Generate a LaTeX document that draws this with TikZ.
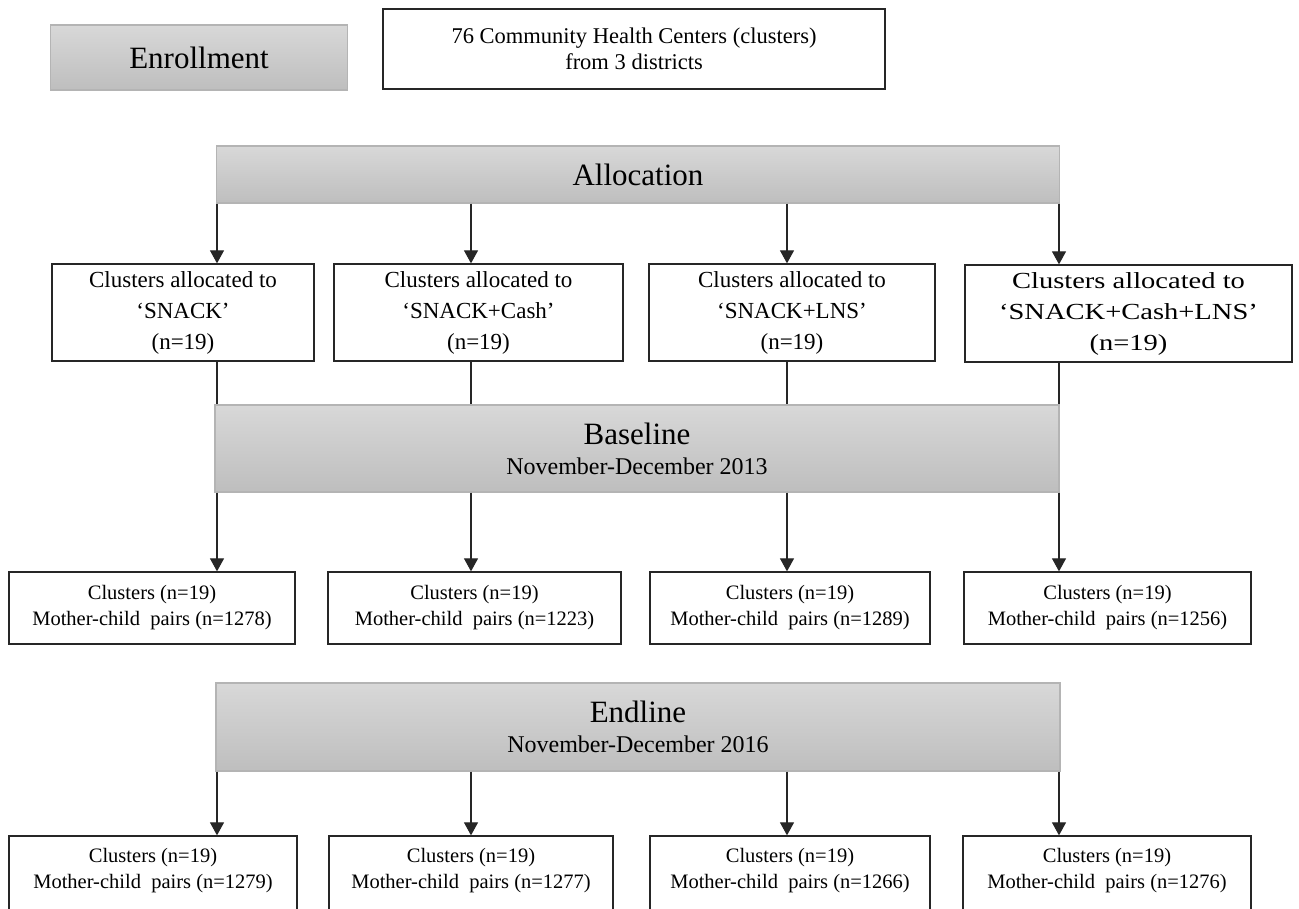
\documentclass[tikz,border=0pt]{standalone}
\usepackage{fontspec}
\setmainfont{Liberation Serif}
\newfontfamily\widefont[FakeStretch=1.24]{Liberation Serif}
\usetikzlibrary{arrows.meta}
\definecolor{barTop}{RGB}{216,216,216}
\definecolor{barBot}{RGB}{190,190,190}
\definecolor{barLine}{RGB}{180,180,180}
\newcommand{\subfont}{\fontsize{24}{30}\selectfont}

\begin{document}
\begin{tikzpicture}[x=1pt, y=-1pt,
  phase/.style={draw=barLine, line width=1.2pt, top color=barTop, bottom color=barBot,
    inner sep=0pt, align=center, font=\fontsize{31}{30}\selectfont},
  plainbox/.style={draw=black!85, line width=1.3pt, fill=white, inner sep=0pt, align=center},
  armbox/.style={plainbox, minimum height=97pt, font=\fontsize{23}{31}\selectfont},
  countbox/.style={plainbox, font=\fontsize{20.5}{26}\selectfont},
  arr/.style={draw=black!85, line width=1.2pt, -{Triangle[width=14pt,length=13pt]}},
  link/.style={draw=black!85, line width=1.2pt}]
\useasboundingbox (0,0) rectangle (1299,908);
\clip (0,0) rectangle (1299,908);

% columns of the connectors
\coordinate (c1) at (217,0);
\coordinate (c2) at (471,0);
\coordinate (c3) at (787,0);
\coordinate (c4) at (1059,0);

% enrollment
\node (enroll) [phase, minimum width=297pt, minimum height=65pt] at (199,57.5) {Enrollment};
\node (chc) [plainbox, minimum width=502pt, minimum height=80pt,
  font=\fontsize{22.5}{26}\selectfont] at (634,49) {76 Community Health Centers (clusters)\\from 3 districts};

% allocation
\node (alloc) [phase, minimum width=843pt, minimum height=57pt] at (638,174.5) {Allocation};
\node (a1) [armbox, minimum width=262pt] at (183,312.5) {Clusters allocated to\\‘SNACK’\\(n=19)};
\node (a2) [armbox, minimum width=289pt] at (478.5,312.5) {Clusters allocated to\\‘SNACK+Cash’\\(n=19)};
\node (a3) [armbox, minimum width=286pt] at (792,312.5) {Clusters allocated to\\‘SNACK+LNS’\\(n=19)};
\node (a4) [armbox, minimum width=327pt, font=\widefont\fontsize{23}{31}\selectfont]
  at (1128.5,313.5) {Clusters allocated to\\‘SNACK+Cash+LNS’\\(n=19)};

% baseline
\node (base) [phase, minimum width=844pt, minimum height=87pt] at (637,448.5)
  {Baseline\\{\subfont November-December 2013}};
\node (b1) [countbox, minimum width=286pt, minimum height=72pt] at (152,608) {Clusters (n=19)\\Mother-child\ \ pairs (n=1278)};
\node (b2) [countbox, minimum width=293pt, minimum height=72pt] at (474.5,608) {Clusters (n=19)\\Mother-child\ \ pairs (n=1223)};
\node (b3) [countbox, minimum width=280pt, minimum height=72pt] at (790,608) {Clusters (n=19)\\Mother-child\ \ pairs (n=1289)};
\node (b4) [countbox, minimum width=287pt, minimum height=72pt] at (1107.5,608) {Clusters (n=19)\\Mother-child\ \ pairs (n=1256)};

% endline
\node (endl) [phase, minimum width=844pt, minimum height=88pt] at (638,727)
  {Endline\\{\subfont November-December 2016}};
\node (e1) [countbox, minimum width=288pt, minimum height=94pt, text depth=30pt] at (153,883) {Clusters (n=19)\\Mother-child\ \ pairs (n=1279)};
\node (e2) [countbox, minimum width=284pt, minimum height=94pt, text depth=30pt] at (471,883) {Clusters (n=19)\\Mother-child\ \ pairs (n=1277)};
\node (e3) [countbox, minimum width=280pt, minimum height=94pt, text depth=30pt] at (790,883) {Clusters (n=19)\\Mother-child\ \ pairs (n=1266)};
\node (e4) [countbox, minimum width=288pt, minimum height=94pt, text depth=30pt] at (1107,883) {Clusters (n=19)\\Mother-child\ \ pairs (n=1276)};

% connectors
\draw[arr] (alloc.south -| c1) -- (a1.north -| c1);
\draw[arr] (alloc.south -| c2) -- (a2.north -| c2);
\draw[arr] (alloc.south -| c3) -- (a3.north -| c3);
\draw[arr] (alloc.south -| c4) -- (a4.north -| c4);
\draw[link] (a1.south -| c1) -- (base.north -| c1);
\draw[link] (a2.south -| c2) -- (base.north -| c2);
\draw[link] (a3.south -| c3) -- (base.north -| c3);
\draw[link] (a4.south -| c4) -- (base.north -| c4);
\draw[arr] (base.south -| c1) -- (b1.north -| c1);
\draw[arr] (base.south -| c2) -- (b2.north -| c2);
\draw[arr] (base.south -| c3) -- (b3.north -| c3);
\draw[arr] (base.south -| c4) -- (b4.north -| c4);
\draw[arr] (endl.south -| c1) -- (e1.north -| c1);
\draw[arr] (endl.south -| c2) -- (e2.north -| c2);
\draw[arr] (endl.south -| c3) -- (e3.north -| c3);
\draw[arr] (endl.south -| c4) -- (e4.north -| c4);
\end{tikzpicture}
\end{document}
